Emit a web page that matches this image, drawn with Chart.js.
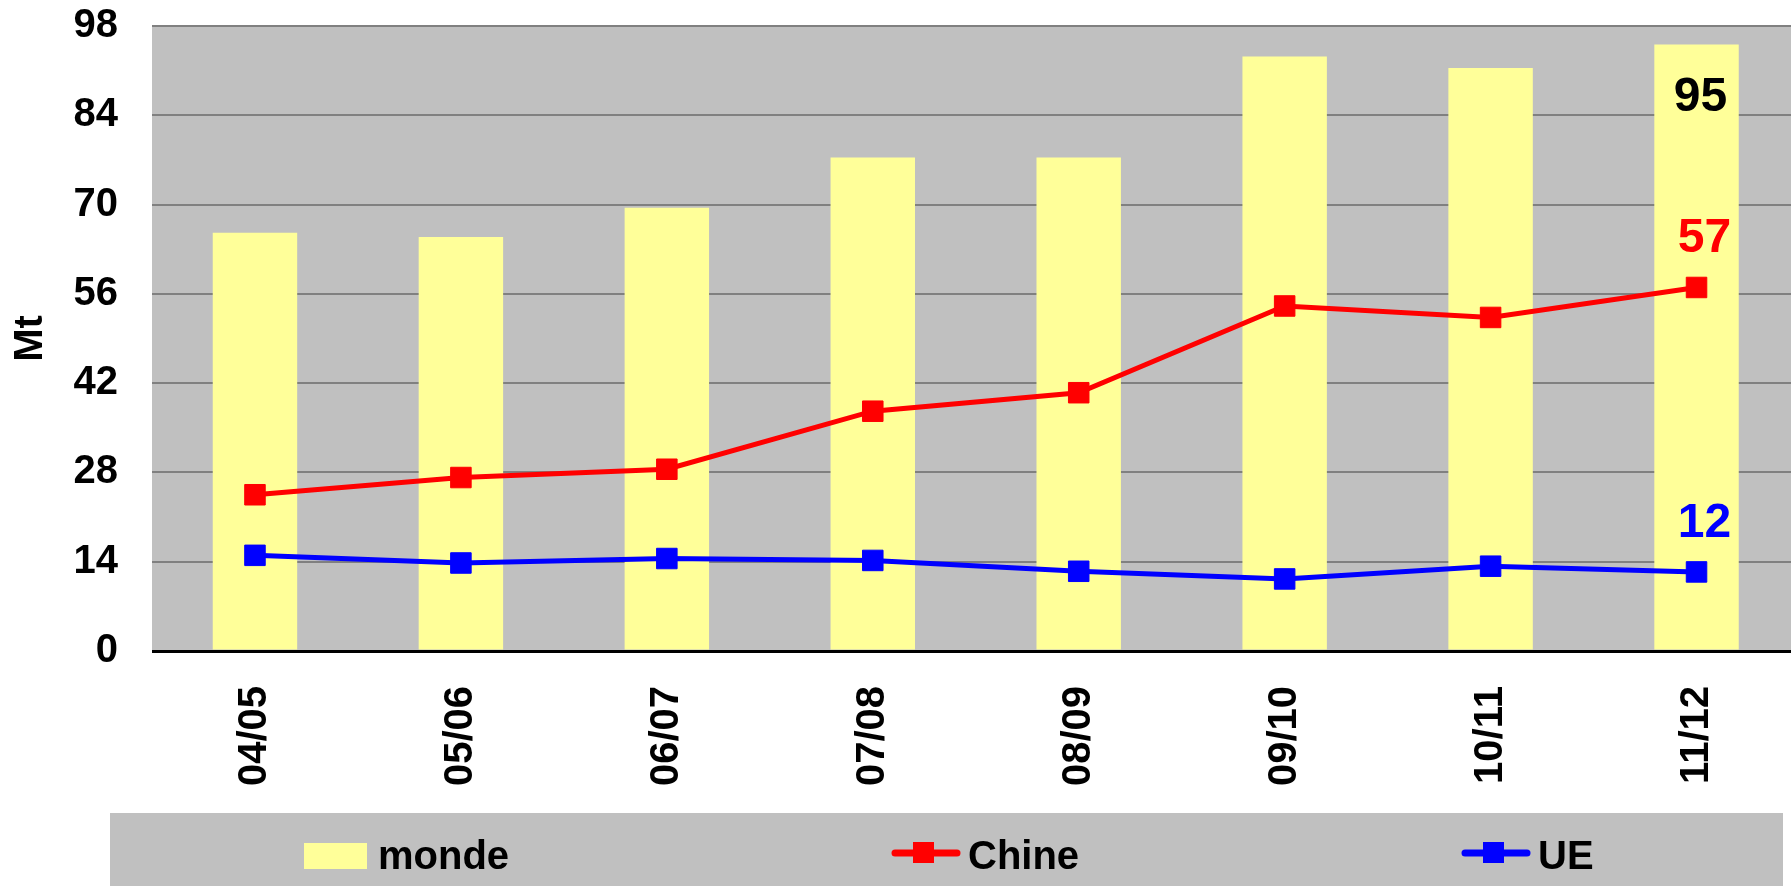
<!DOCTYPE html>
<html>
<head>
<meta charset="utf-8">
<script src="https://cdn.jsdelivr.net/npm/chart.js@4/dist/chart.umd.min.js"></script>
<style>
  html, body { margin: 0; padding: 0; background: #ffffff; overflow: hidden; }
  #wrap { width: 1791px; height: 886px; overflow: hidden; position: relative; }
  canvas { display: block; }
</style>
</head>
<body>
<div id="wrap"><canvas id="c" width="1815" height="886"></canvas></div>
<script>
// ---- data ----
const categories = ['04/05', '05/06', '06/07', '07/08', '08/09', '09/10', '10/11', '11/12'];
const monde = [65.6, 64.9, 69.5, 77.4, 77.4, 93.2, 91.4, 95.1];
const chine = [24.5, 27.2, 28.5, 37.6, 40.5, 54.1, 52.3, 57.0];
const ue    = [15.0, 13.8, 14.5, 14.2, 12.5, 11.3, 13.3, 12.4];
const yTicks = [0, 14, 28, 42, 56, 70, 84, 98];
const seriesNames = ['monde', 'Chine', 'UE'];
const endLabels = ['95', '57', '12'];

const FONT = '"Liberation Sans", Arial, Helvetica, sans-serif';

const plotBg = {
  id: 'plotBg',
  beforeDraw(chart) {
    const { ctx, chartArea: a } = chart;
    ctx.save();
    ctx.fillStyle = '#C0C0C0';
    ctx.fillRect(a.left, a.top, a.right - a.left, a.bottom - a.top);
    ctx.restore();
  }
};

const endLabelPlugin = {
  id: 'endLabels',
  afterDatasetsDraw(chart) {
    const { ctx } = chart;
    const colors = ['#000000', '#FF0000', '#0000FF'];
    const dy = [50, -52, -52];
    const dx = [4, 8, 8];
    ctx.save();
    ctx.font = 'bold 48px ' + FONT;
    ctx.textAlign = 'center';
    ctx.textBaseline = 'alphabetic';
    chart.data.datasets.forEach((ds, i) => {
      const meta = chart.getDatasetMeta(i);
      const el = meta.data[meta.data.length - 1];
      ctx.fillStyle = colors[i];
      ctx.fillText(endLabels[i], el.x + dx[i], el.y + dy[i] + 17);
    });
    ctx.restore();
  }
};

const legendPlugin = {
  id: 'boxLegend',
  afterDraw(chart) {
    const { ctx } = chart;
    ctx.save();
    ctx.fillStyle = '#C0C0C0';
    ctx.fillRect(110, 813, 1673, 80);
    ctx.font = 'bold 40px ' + FONT;
    ctx.textBaseline = 'alphabetic';
    ctx.textAlign = 'left';
    const ds = chart.data.datasets;
    ctx.fillStyle = ds[0].backgroundColor;
    ctx.fillRect(304, 843, 63, 26);
    ctx.fillStyle = '#000';
    ctx.fillText(ds[0].label, 378, 869);
    const items = [[1, 892, 968], [2, 1462, 1538]];
    items.forEach(([i, x0, tx]) => {
      const c = ds[i].borderColor;
      ctx.strokeStyle = c;
      ctx.lineWidth = 7;
      ctx.lineCap = 'round';
      ctx.beginPath();
      ctx.moveTo(x0 + 3, 853);
      ctx.lineTo(x0 + 65, 853);
      ctx.stroke();
      ctx.fillStyle = c;
      ctx.fillRect(x0 + 21, 842, 21, 21);
      ctx.fillStyle = '#000';
      ctx.fillText(ds[i].label, tx, 869);
    });
    ctx.restore();
  }
};

new Chart(document.getElementById('c'), {
  type: 'bar',
  data: {
    labels: categories,
    datasets: [
      {
        type: 'bar', label: seriesNames[0], data: monde,
        backgroundColor: '#FFFF99', borderWidth: 0,
        barPercentage: 0.41, categoryPercentage: 1.0, order: 3
      },
      {
        type: 'line', label: seriesNames[1], data: chine,
        borderColor: '#FF0000', backgroundColor: '#FF0000', borderWidth: 5,
        pointStyle: 'rect', pointRadius: 14.5, pointBorderWidth: 1,
        pointBorderColor: '#FF0000', pointBackgroundColor: '#FF0000',
        tension: 0, fill: false, order: 1
      },
      {
        type: 'line', label: seriesNames[2], data: ue,
        borderColor: '#0000FF', backgroundColor: '#0000FF', borderWidth: 5,
        pointStyle: 'rect', pointRadius: 14.5, pointBorderWidth: 1,
        pointBorderColor: '#0000FF', pointBackgroundColor: '#0000FF',
        tension: 0, fill: false, order: 2
      }
    ]
  },
  options: {
    responsive: false,
    animation: false,
    devicePixelRatio: 1,
    layout: { padding: { top: 26, right: 0, bottom: 0, left: 0 } },
    plugins: {
      legend: { display: false },
      tooltip: { enabled: false }
    },
    scales: {
      x: {
        type: 'category',
        offset: true,
        grid: { display: false, drawTicks: false },
        border: { display: false },
        ticks: {
          autoSkip: false,
          maxRotation: 90, minRotation: 90,
          padding: 35,
          color: '#000',
          font: { family: FONT, size: 40, weight: 'bold' }
        },
        afterFit(scale) {
          scale.height = 235;
          scale.paddingLeft = 0;
          scale.paddingRight = 0;
        }
      },
      y: {
        min: 0, max: 98,
        afterBuildTicks(scale) {
          scale.ticks = yTicks.map(v => ({ value: v }));
        },
        grid: {
          drawTicks: false,
          color: ctx => (ctx.tick && ctx.tick.value === 0) ? '#000000' : '#808080',
          lineWidth: ctx => (ctx.tick && ctx.tick.value === 0) ? 3 : 2
        },
        border: { display: false },
        ticks: {
          padding: 34,
          color: '#000',
          font: { family: FONT, size: 40, weight: 'bold' }
        },
        title: {
          display: true,
          text: 'Mt',
          color: '#000',
          padding: { top: 7, bottom: 0 },
          font: { family: FONT, size: 40, weight: 'bold' }
        },
        afterFit(scale) {
          scale.width = 152;
          scale.paddingTop = 0;
          scale.paddingBottom = 0;
        }
      }
    }
  },
  plugins: [plotBg, endLabelPlugin, legendPlugin]
});
</script>
</body>
</html>
